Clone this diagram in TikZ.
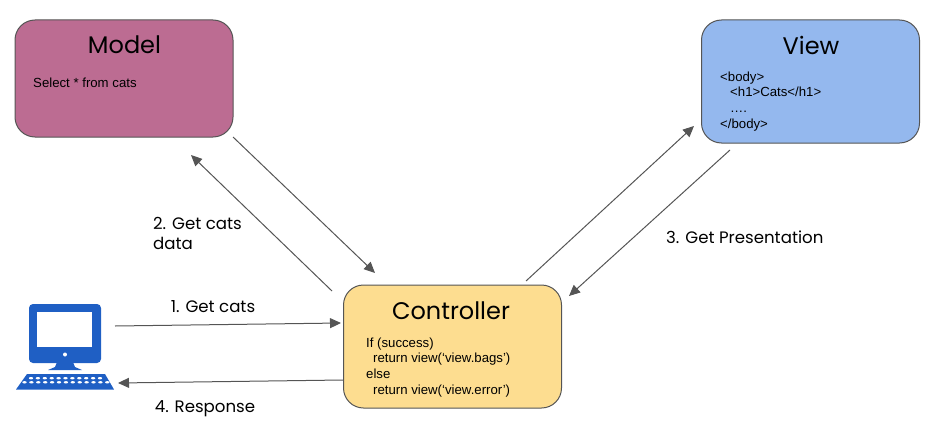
\documentclass[tikz,border=0pt]{standalone}
\usepackage{fontspec}
\setmainfont{Liberation Sans}
\newfontfamily\labelfont{Poppins}
\usetikzlibrary{arrows.meta}
\definecolor{modelfill}{HTML}{BC6C92}
\definecolor{viewfill}{HTML}{94B8EE}
\definecolor{ctrlfill}{HTML}{FDDD90}
\definecolor{pcblue}{HTML}{1F5FC4}
\definecolor{linegray}{HTML}{555555}
\tikzset{%
  box/.style   = {shape=rectangle, rounded corners=20, draw=linegray, line width=1,%
                  minimum width=218, inner sep=0pt},%
  title/.style = {font=\labelfont\fontsize{24}{24}\selectfont},%
  code/.style  = {align=left, anchor=north west, inner sep=0pt,%
                  font=\fontsize{13.2}{15.7}\selectfont},%
  tag/.style   = {align=left, inner sep=0pt, font=\labelfont\fontsize{16.6}{20}\selectfont},%
  flow/.style  = {-{Triangle[length=11,width=10]}, draw=linegray, line width=1}%
}
\begin{document}
\begin{tikzpicture}[x=1pt,y=-1pt]
	\useasboundingbox (0,0) rectangle (936,436);
	% boxes
	\node [box,fill=modelfill,minimum height=117] (model) at (124,78.5) {};
	\node [box,fill=viewfill,minimum height=123] (view) at (810.5,81.5) {};
	\node [box,fill=ctrlfill,minimum height=123] (ctrl) at (452.5,346.5) {};
	\node [title] (modeltitle) at (124.5,45) {Model};
	\node [title] (viewtitle) at (811,45) {View};
	\node [title] (ctrltitle) at (451,311) {Controller};
	\node [code] (modelcode) at (33,77.5) {Select * from cats};
	\node [code] (viewcode) at (720,71.5) {<body>\\\hspace*{10pt}<h1>Cats</h1>\\\hspace*{10pt}….\\</body>};
	\node [code] (ctrlcode) at (366,337.5) {If (success)\\\hspace*{7pt}return view(‘view.bags’)\\else\\\hspace*{7pt}return view(‘view.error’)};
	% computer
	\begin{scope}[pcblue]
		\node [fill,rounded corners=4,minimum width=72,minimum height=59,inner sep=0pt] (monitor) at (65,333.5) {};
		\node [fill=white,minimum width=55,minimum height=35,inner sep=0pt] (screen) at (64.5,329.5) {};
		\fill [white] (65,354.5) circle (2);
		\fill (57,362) -- (73,362) -- (75,367) -- (82,370) -- (48,370) -- (55,367) -- cycle;
		\fill (27,374) -- (105,374) -- (114,389.5) -- (16,389.5) -- cycle;
		\foreach \k in {0,...,10} \fill [white] (31+\k*6.9,378.2) ellipse (2.2 and 1.2);
		\foreach \k in {0,...,12} \fill [white] (24.5+\k*6.9,382.3) ellipse (2.2 and 1.2);
		\coordinate (pcout) at (115,326);
		\coordinate (pcin) at (118,383);
	\end{scope}
	% free ends of the connectors
	\coordinate (m1) at (233,137);
	\coordinate (c1) at (375,273);
	\coordinate (c2) at (332,291);
	\coordinate (m2) at (191,155);
	\coordinate (c3) at (526,281);
	\coordinate (v1) at (694,126);
	\coordinate (v2) at (730,150);
	\coordinate (c4) at (569,296);
	\coordinate (c5) at (341,323);
	\coordinate (c6) at (343,380);
	\draw [flow] (m1) -- (c1);
	\draw [flow] (c2) -- (m2);
	\draw [flow] (c3) -- (v1);
	\draw [flow] (v2) -- (c4);
	\draw [flow] (pcout) -- (c5);
	\draw [flow] (c6) -- (pcin);
	% labels
	\node [tag,anchor=west] (getdata) at (153,233) {2. Get cats\\data};
	\node [tag,anchor=west] (getpres) at (666,237) {3. Get Presentation};
	\node [tag] (getcats) at (213,307) {1. Get cats};
	\node [tag] (response) at (205,409) {4. Response};
\end{tikzpicture}
\end{document}
